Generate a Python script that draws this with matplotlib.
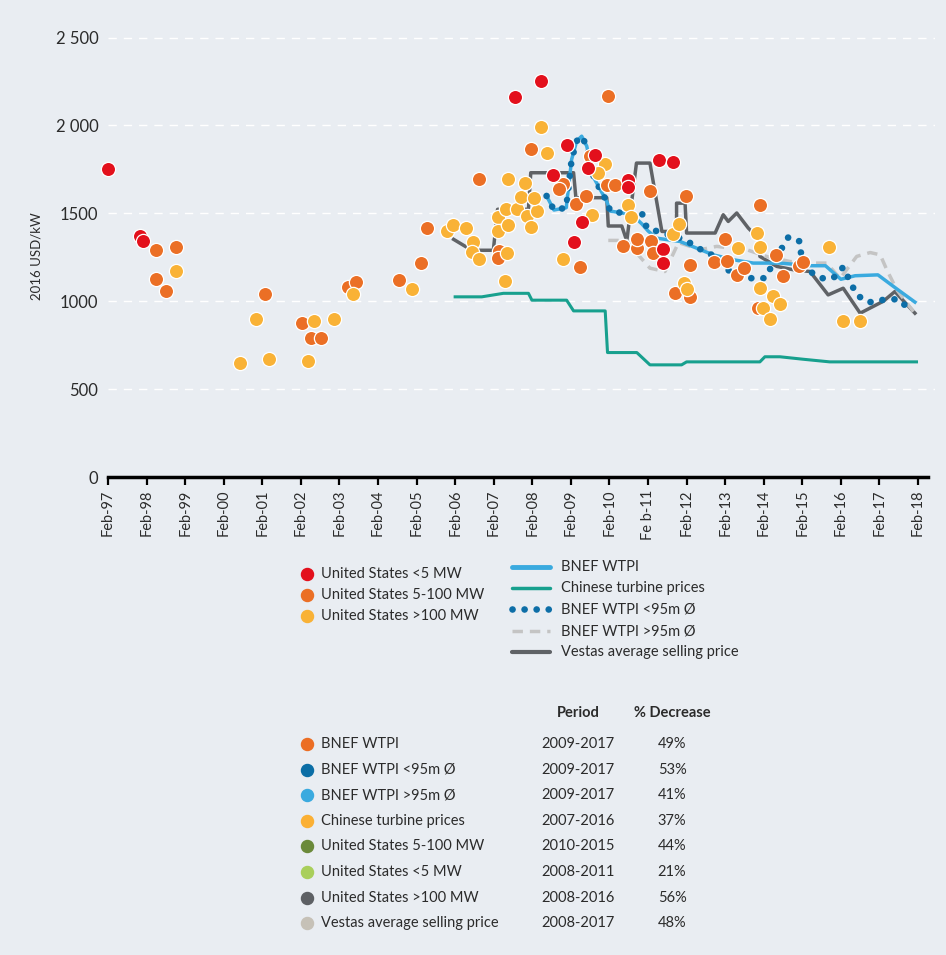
import numpy as np
import matplotlib.pyplot as plt

plt.rcParams['font.family'] = ['Lato', 'DejaVu Sans']

# --- data (x in years, integer = February of that year) ---
us_small_x = [1997.0, 1997.82, 1997.91, 2007.55, 2008.22, 2008.89, 2008.54, 2009.62, 2009.45,
              2009.3, 2009.07, 2010.47, 2010.47, 2011.29, 2011.64, 2011.39, 2011.39]
us_small_y = [1751, 1369, 1340, 2160, 2255, 1887, 1720, 1834, 1758,
              1450, 1336, 1691, 1650, 1801, 1792, 1297, 1220]

us_mid_x = [1998.24, 1998.24, 1998.5, 1998.75, 2001.08, 2002.02, 2002.25, 2002.52, 2003.21, 2003.44,
            2004.55, 2005.12, 2005.28, 2006.63, 2007.14, 2007.12, 2007.97, 2008.8, 2008.7, 2009.13,
            2009.38, 2009.5, 2009.24, 2009.97, 2009.93, 2010.15, 2010.36, 2010.72, 2010.71, 2011.07,
            2011.14, 2011.05, 2011.99, 2012.09, 2011.7, 2012.08, 2012.7, 2013.0, 2013.04, 2013.3,
            2013.49, 2013.9, 2014.33, 2014.51, 2013.85, 2014.92, 2015.02]
us_mid_y = [1291, 1129, 1056, 1311, 1043, 874, 792, 792, 1082, 1109,
            1119, 1219, 1418, 1697, 1283, 1245, 1868, 1669, 1638, 1555,
            1596, 1828, 1195, 2166, 1663, 1663, 1312, 1300, 1355, 1340,
            1276, 1625, 1600, 1207, 1046, 1025, 1226, 1355, 1228, 1148,
            1190, 1547, 1262, 1145, 962, 1200, 1222]

us_large_x = [1998.75, 2000.42, 2000.83, 2001.18, 2002.19, 2002.35, 2002.86, 2003.34, 2004.87, 2005.78,
              2005.95, 2006.29, 2006.45, 2006.43, 2006.63, 2007.12, 2007.12, 2007.38, 2007.33, 2007.61,
              2007.87, 2008.13, 2007.97, 2007.71, 2008.05, 2007.38, 2007.81, 2007.35, 2007.29, 2008.23,
              2008.38, 2008.8, 2009.55, 2009.88, 2009.71, 2010.49, 2010.56, 2011.66, 2011.81, 2011.92,
              2012.0, 2013.32, 2013.83, 2013.9, 2013.9, 2014.23, 2014.42, 2013.97, 2014.16, 2015.68,
              2016.06, 2016.5]
us_large_y = [1174, 646, 900, 669, 661, 886, 900, 1043, 1070, 1397,
              1432, 1416, 1338, 1280, 1238, 1479, 1397, 1435, 1524, 1527,
              1484, 1511, 1421, 1593, 1590, 1696, 1670, 1274, 1114, 1993,
              1841, 1240, 1492, 1781, 1729, 1545, 1477, 1383, 1441, 1105,
              1068, 1302, 1386, 1308, 1076, 1032, 985, 962, 898, 1310,
              885, 885]

china_x = [2006.0, 2006.69, 2007.25, 2007.9, 2007.99, 2008.89, 2009.07, 2009.89, 2009.95, 2010.71,
           2011.05, 2011.87, 2012.0, 2013.9, 2014.03, 2014.42, 2015.02, 2015.71, 2017.96]
china_y = [1025, 1025, 1045, 1045, 1006, 1006, 945, 945, 708, 708,
           638, 638, 655, 655, 684, 684, 670, 655, 655]

wtpi_x = [2008.37, 2008.56, 2008.88, 2009.02, 2009.15, 2009.28, 2009.41, 2009.6, 2009.93, 2010.02,
          2010.27, 2010.58, 2010.84, 2011.0, 2011.22, 2011.83, 2012.69, 2013.21, 2013.73, 2014.42,
          2015.2, 2015.6, 2016.0, 2016.37, 2016.96, 2017.45, 2017.92]
wtpi_y = [1599, 1519, 1532, 1807, 1911, 1939, 1883, 1700, 1568, 1513,
          1504, 1494, 1440, 1400, 1359, 1340, 1264, 1236, 1217, 1217,
          1202, 1202, 1125, 1145, 1150, 1070, 995]

small_rotor_x = [2008.37, 2008.56, 2008.88, 2009.02, 2009.15, 2009.28, 2009.41, 2009.6, 2009.93, 2010.02,
                 2010.27, 2010.58, 2010.84, 2010.97, 2011.96, 2012.3, 2012.65, 2012.95, 2013.6, 2014.03,
                 2014.47, 2014.64, 2014.94, 2014.98, 2015.2, 2015.5, 2015.8, 2016.06, 2016.24, 2016.41,
                 2016.71, 2017.1, 2017.49, 2017.79]
small_rotor_y = [1599, 1519, 1532, 1807, 1911, 1939, 1883, 1700, 1568, 1513,
                 1504, 1494, 1502, 1416, 1350, 1302, 1264, 1188, 1131, 1131,
                 1302, 1365, 1340, 1236, 1169, 1131, 1131, 1194, 1112, 1036,
                 993, 1008, 1012, 951]

large_rotor_x = [2009.97, 2010.45, 2010.6, 2011.05, 2011.44, 2011.79, 2012.35, 2012.78, 2013.56, 2014.07,
                 2014.68, 2015.29, 2015.63, 2015.98, 2016.41, 2016.76, 2017.02, 2017.19, 2017.45, 2017.88]
large_rotor_y = [1346, 1346, 1300, 1188, 1169, 1334, 1293, 1312, 1293, 1255,
                 1226, 1217, 1217, 1130, 1255, 1277, 1264, 1179, 1065, 941]

vestas_x = [2005.96, 2006.43, 2006.99, 2007.1, 2007.9, 2007.96, 2009.07, 2009.13, 2009.93, 2009.97,
            2010.32, 2010.45, 2010.7, 2011.05, 2011.36, 2011.74, 2011.74, 2011.96, 2012.0, 2012.74,
            2012.95, 2013.08, 2013.3, 2013.6, 2013.9, 2013.9, 2014.34, 2014.77, 2015.2, 2015.67,
            2016.06, 2016.5, 2017.1, 2017.4, 2017.92]
vestas_y = [1352, 1290, 1290, 1523, 1523, 1731, 1731, 1589, 1589, 1428,
            1428, 1343, 1786, 1786, 1397, 1397, 1558, 1558, 1388, 1388,
            1492, 1454, 1502, 1416, 1350, 1255, 1198, 1179, 1169, 1036,
            1074, 932, 1000, 1055, 932]

years = list(range(1997, 2019))
xlabels = ['Feb-%02d' % (y % 100) for y in years]
xlabels[years.index(2011)] = 'Fe b-11'

table_names = ['BNEF WTPI', 'BNEF WTPI <95m Ø', 'BNEF WTPI >95m Ø', 'Chinese turbine prices',
               'United States 5-100 MW', 'United States <5 MW', 'United States >100 MW',
               'Vestas average selling price']
table_periods = ['2009-2017', '2009-2017', '2009-2017', '2007-2016',
                 '2010-2015', '2008-2011', '2008-2016', '2008-2017']
table_decrease = ['49%', '53%', '41%', '37%', '44%', '21%', '56%', '48%']
table_colors = ['#ec6e24', '#0b6ea6', '#3aaadf', '#fbb034', '#6b8a3a', '#a9cf5b', '#5d6064', '#c6c1b7']

RED, ORANGE, YELLOW = '#e3101c', '#eb6f25', '#f9b236'
LBLUE, TEAL, DBLUE, LGREY, DGREY = '#3aaadf', '#17a08e', '#0d6ea7', '#c4c4c4', '#5f6266'
TXT = '#2b2b2b'
bg = '#e9edf2'

W, H = 946, 955
fig = plt.figure(figsize=(W / 100, H / 100), dpi=100)
fig.patch.set_facecolor(bg)

ax = fig.add_axes([108 / W, 1 - 477 / H, 827 / W, (477 - 20) / H])
ax.set_facecolor(bg)
ax.set_xlim(1997, 2018.44)
ax.set_ylim(0, 2600)
for s in ['top', 'right', 'left']:
    ax.spines[s].set_visible(False)
ax.spines['bottom'].set_linewidth(2.5)
ax.spines['bottom'].set_bounds(1997, 2018.25)

for gy in range(500, 2501, 500):
    ax.axhline(gy, color='white', lw=1, ls=(0, (6, 5)), zorder=0.5)

ax.set_yticks(range(0, 2501, 500))
ax.set_yticklabels(['0', '500', '1000', '1500', '2 000', '2 500'], fontsize=12, color=TXT)
ax.tick_params(axis='y', length=0, pad=7)
ax.set_xticks(years)
ax.set_xticklabels(xlabels, rotation=90, fontsize=10.5, color=TXT)
ax.tick_params(axis='x', direction='out', length=6, width=1.6, pad=3)

# lines
ax.plot(china_x, china_y, color=TEAL, lw=2.2, zorder=2)
ax.plot(vestas_x, vestas_y, color=DGREY, lw=2.5, zorder=2)
ax.plot(large_rotor_x, large_rotor_y, color=LGREY, lw=2.5, ls=(0, (3, 2)), zorder=2)
ax.plot(wtpi_x, wtpi_y, color=LBLUE, lw=2.5, zorder=2)
ax.plot(small_rotor_x, small_rotor_y, color=DBLUE, lw=4.8, ls=(0, (0.01, 1.8)),
        dash_capstyle='round', zorder=2.5)

# scatter
kw = dict(s=105, edgecolors='white', linewidths=0.9, zorder=3, clip_on=False)
ax.scatter(us_mid_x, us_mid_y, color=ORANGE, **kw)
ax.scatter(us_large_x, us_large_y, color=YELLOW, **kw)
ax.scatter(us_small_x, us_small_y, color=RED, **kw)

fig.text(36 / W, 1 - 256 / H, '2016 USD/kW', rotation=90, ha='center', va='center',
         fontsize=9.5, color=TXT)

# legend + table drawn in pixel coordinates
lax = fig.add_axes([0, 0, 1, 1])
lax.set_xlim(0, W)
lax.set_ylim(H, 0)
lax.axis('off')

for yy, c, t in zip([574, 595, 616], [RED, ORANGE, YELLOW],
                    ['United States <5 MW', 'United States 5-100 MW', 'United States >100 MW']):
    lax.scatter(307, yy, s=75, color=c)
    lax.text(321, yy, t, va='center', fontsize=10.5, color=TXT)

rows = [567, 588, 609, 631, 652]
lax.plot([512, 550], [rows[0]] * 2, color=LBLUE, lw=3.5, solid_capstyle='round')
lax.plot([512, 550], [rows[1]] * 2, color=TEAL, lw=2.5, solid_capstyle='round')
lax.plot([512, 552], [rows[2]] * 2, color=DBLUE, lw=4.8, ls=(0, (0.01, 1.8)), dash_capstyle='round')
lax.plot([512, 550], [rows[3]] * 2, color=LGREY, lw=2.5, ls=(0, (3, 2)))
lax.plot([512, 550], [rows[4]] * 2, color=DGREY, lw=3, solid_capstyle='round')
for yy, t in zip(rows, ['BNEF WTPI', 'Chinese turbine prices', 'BNEF WTPI <95m Ø',
                        'BNEF WTPI >95m Ø', 'Vestas average selling price']):
    lax.text(561, yy, t, va='center', fontsize=10.5, color=TXT)

lax.text(578, 713, 'Period', ha='center', va='center', fontsize=10.5, fontweight='bold', color=TXT)
lax.text(672, 713, '% Decrease', ha='center', va='center', fontsize=10.5, fontweight='bold', color=TXT)
for i in range(len(table_names)):
    yy = 744 + i * 25.6
    lax.scatter(307, yy, s=75, color=table_colors[i])
    lax.text(321, yy, table_names[i], va='center', fontsize=10.5, color=TXT)
    lax.text(578, yy, table_periods[i], ha='center', va='center', fontsize=10.5, color=TXT)
    lax.text(672, yy, table_decrease[i], ha='center', va='center', fontsize=10.5, color=TXT)

fig.savefig('out.png', dpi=100, facecolor=bg)
